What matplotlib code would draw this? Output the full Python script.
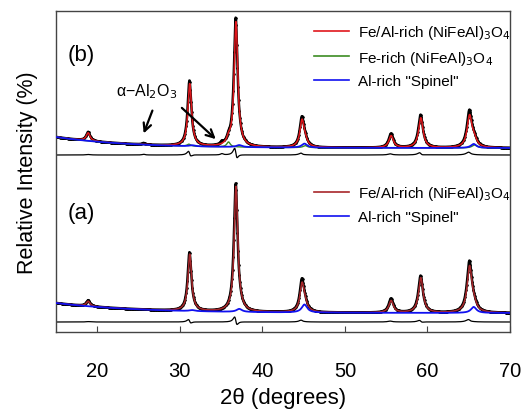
import numpy as np
import matplotlib
matplotlib.use("Agg")
import matplotlib.pyplot as plt
from matplotlib.lines import Line2D

plt.rcParams['font.family'] = ['Liberation Sans', 'DejaVu Sans']

# ---------------- data ----------------
x_min, x_max = 15.0, 70.0
xticks = [20, 30, 40, 50, 60, 70]

# main phase (Fe/Al-rich) reflections
peak_pos = [18.9, 31.2, 36.8, 44.8, 55.6, 59.2, 65.1]
obs_pos = [18.9, 31.17, 36.77, 44.78, 55.58, 59.17, 65.08]
peak_fwhm = [0.55, 0.52, 0.52, 0.60, 0.65, 0.65, 0.70]

# panel (b)
calc_b = [8, 60, 124, 25, 12, 30, 31]
obs_b = [9, 63, 128, 28, 14, 33, 36]
# panel (a)
calc_a = [5, 56, 124, 25, 12, 35, 45]
obs_a = [6, 58, 127, 29, 14, 37, 50]

# Fe-rich phase (b) small peaks
fe_pos = [31.1, 35.9, 45.2, 65.7]
fe_h_b = [2, 5, 2, 3]
fe_fwhm = [0.5, 0.5, 0.6, 0.7]

# Al-rich spinel small peaks
al_pos = [31.5, 37.2, 45.1, 65.6]
al_h_b = [1, 2, 4, 4]
al_h_a = [1, 3, 8, 6]
al_fwhm = [0.8, 0.8, 0.8, 0.8]

# alpha-Al2O3 small features (observed only)
alu_pos = [25.6, 35.1]
alu_h = [1.5, 2.5]

# backgrounds: level at 70, extra at 15, decay length
bg_b = (184.0, 11.0, 9.0)
bg_a = (19.0, 10.0, 10.0)

diff_off_b = 177.0
diff_off_a = 10.0

# ---------------------------------------------------------
x = np.linspace(x_min, x_max, 2200)


def lor(x, pos, h, w):
    g = w / 2.0
    return h * g ** 2 / ((x - pos) ** 2 + g ** 2)


def profile(pos, hs, ws):
    y = np.zeros_like(x)
    for p, h, w in zip(pos, hs, ws):
        y += lor(x, p, h, w)
    return y


def bg(par):
    b0, a, d = par
    return b0 + a * np.exp(-(x - x_min) / d)


fig = plt.figure(figsize=(5.28, 4.10), dpi=100)
ax = fig.add_axes([56 / 528, (410 - 333) / 410, (510 - 56) / 528, (333 - 12) / 410])

red = '#e0171c'
dred = '#a8262a'
green = '#3c8c23'
blue = '#1010f0'

# ---- panel (b)
B = bg(bg_b)
main_b = profile(peak_pos, calc_b, peak_fwhm)
fe_b = profile(fe_pos, fe_h_b, fe_fwhm)
al_b = profile(al_pos, al_h_b, al_fwhm)
calc_tot_b = B + main_b + fe_b + al_b
obs_tot_b = B + profile(obs_pos, obs_b, [w * 1.02 for w in peak_fwhm]) + fe_b + al_b \
    + profile(alu_pos, alu_h, [0.4, 0.4])
ax.plot(x, obs_tot_b, color='black', lw=1.8, marker='.', ms=1.8, markevery=3, zorder=2)
ax.plot(x, calc_tot_b, color=red, lw=1.1, zorder=3)
ax.plot(x, B + fe_b, color=green, lw=1.0, zorder=4)
ax.plot(x, B + al_b, color=blue, lw=1.3, zorder=5)
ax.plot(x, diff_off_b + (obs_tot_b - calc_tot_b) * 0.5, color='black', lw=0.9, zorder=2)

# ---- panel (a)
A = bg(bg_a)
main_a = profile(peak_pos, calc_a, peak_fwhm)
al_a = profile(al_pos, al_h_a, al_fwhm)
calc_tot_a = A + main_a + al_a
obs_tot_a = A + profile(obs_pos, obs_a, [w * 1.02 for w in peak_fwhm]) + al_a
ax.plot(x, obs_tot_a, color='black', lw=1.8, marker='.', ms=1.8, markevery=3, zorder=2)
ax.plot(x, calc_tot_a, color=dred, lw=1.1, zorder=3)
ax.plot(x, A + al_a, color=blue, lw=1.3, zorder=5)
ax.plot(x, diff_off_a + (obs_tot_a - calc_tot_a) * 0.4, color='black', lw=0.9, zorder=2)

ax.set_xlim(x_min, x_max)
ax.set_ylim(0, 321)
ax.set_xticks(xticks)
ax.set_yticks([])
ax.tick_params(axis='x', direction='in', length=4, labelsize=14.5, pad=21, color='#444444')
for s in ax.spines.values():
    s.set_color('#444444')
    s.set_linewidth(1.0)
ax.set_xlabel('2\u03b8 (degrees)', fontsize=16)
ax.xaxis.set_label_coords(0.5, -0.172)
ax.set_ylabel('Relative Intensity (%)', fontsize=15.5)
ax.yaxis.set_label_coords(-0.04, 0.5)

# panel labels
ax.text(16.4, 277, '(b)', fontsize=16, va='center')
ax.text(16.4, 120, '(a)', fontsize=16, va='center')

# annotation
ax.text(26.0, 241, '\u03b1\u2212Al$_2$O$_3$', fontsize=11.5, ha='center', va='center')
ax.annotate('', xy=(25.5, 196), xytext=(26.8, 224),
            arrowprops=dict(arrowstyle='->', lw=1.6, color='black', mutation_scale=14))
ax.annotate('', xy=(34.6, 191), xytext=(30.0, 226),
            arrowprops=dict(arrowstyle='->', lw=1.6, color='black', mutation_scale=14))

# legends
hb = [Line2D([], [], color=red, lw=1.2), Line2D([], [], color=green, lw=1.2),
      Line2D([], [], color=blue, lw=1.2)]
lb = ['Fe/Al-rich (NiFeAl)$_3$O$_4$', 'Fe-rich (NiFeAl)$_3$O$_4$', 'Al-rich "Spinel"']
leg1 = ax.legend(hb, lb, loc='upper left', bbox_to_anchor=(0.555, 0.982), frameon=False,
                 fontsize=11, handlelength=2.3, handletextpad=0.55, labelspacing=0.5,
                 borderaxespad=0)
ax.add_artist(leg1)
ha = [Line2D([], [], color=dred, lw=1.2), Line2D([], [], color=blue, lw=1.2)]
la = ['Fe/Al-rich (NiFeAl)$_3$O$_4$', 'Al-rich "Spinel"']
ax.legend(ha, la, loc='upper left', bbox_to_anchor=(0.555, 0.479), frameon=False,
          fontsize=11, handlelength=2.3, handletextpad=0.55, labelspacing=0.5,
          borderaxespad=0)

fig.savefig('out.png', dpi=100)
